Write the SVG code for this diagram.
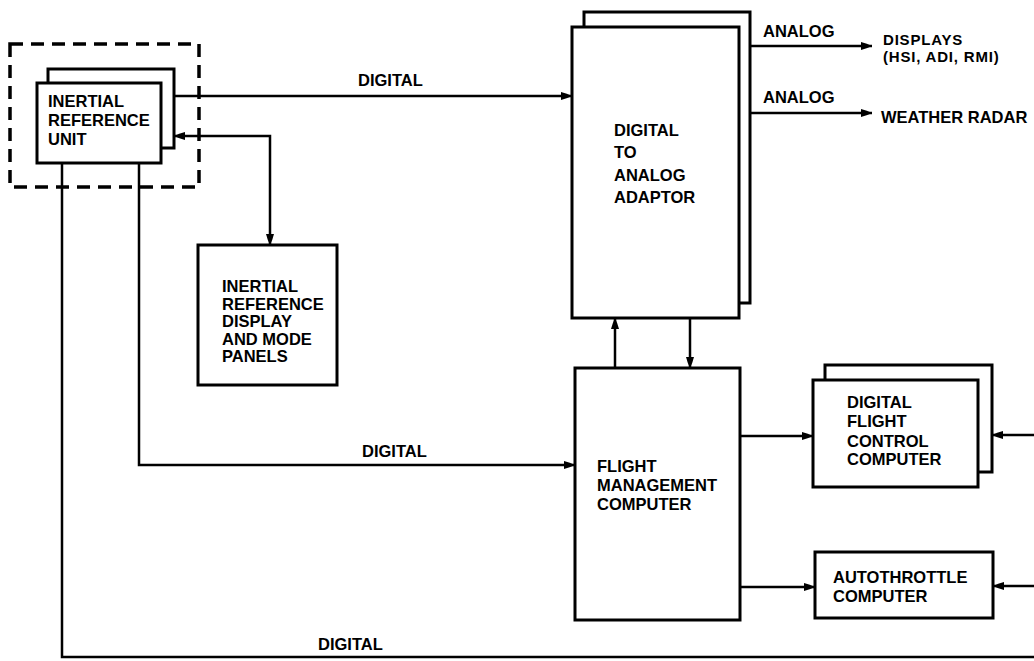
<svg xmlns="http://www.w3.org/2000/svg" width="1034" height="661" viewBox="0 0 1034 661">
<style>
.box{fill:#fff;stroke:#000;stroke-width:3}
.ln{fill:none;stroke:#000;stroke-width:2.5}
.dash{fill:none;stroke:#000;stroke-width:3.5;stroke-dasharray:13 8}
text{font-family:"Liberation Sans",Arial,sans-serif;font-weight:bold;font-size:16.5px;fill:#000}
.sm{font-size:15px;letter-spacing:0.8px}
</style>
<defs>
<marker id="ah" markerUnits="userSpaceOnUse" markerWidth="14" markerHeight="10" refX="11" refY="5" orient="auto-start-reverse">
<path d="M0,1 Q6,2.5 11,5 Q6,7.5 0,9 Z" fill="#000"/>
</marker>
</defs>
<rect width="1034" height="661" fill="#fff"/>
<g id="iru-boundary"><rect class="dash" x="10" y="44" width="189" height="143"/></g>
<g id="iru">
<rect class="box" x="48" y="69" width="126" height="79"/>
<rect class="box" x="37" y="83" width="124" height="80"/>
<text x="48" y="107">INERTIAL</text>
<text x="48" y="126">REFERENCE</text>
<text x="48" y="145">UNIT</text>
</g>
<g id="irdp">
<rect class="box" x="198" y="245" width="139" height="140"/>
<text x="222" y="292">INERTIAL</text>
<text x="222" y="310">REFERENCE</text>
<text x="222" y="327">DISPLAY</text>
<text x="222" y="345">AND MODE</text>
<text x="222" y="362">PANELS</text>
</g>
<g id="daa">
<rect class="box" x="584" y="12" width="166" height="291"/>
<rect class="box" x="572" y="27" width="167" height="291"/>
<text x="614" y="136">DIGITAL</text>
<text x="614" y="158">TO</text>
<text x="614" y="181">ANALOG</text>
<text x="614" y="203">ADAPTOR</text>
</g>
<g id="fmc">
<rect class="box" x="575" y="368" width="165" height="252"/>
<text x="597" y="472">FLIGHT</text>
<text x="597" y="491">MANAGEMENT</text>
<text x="597" y="510">COMPUTER</text>
</g>
<g id="dfcc">
<rect class="box" x="825" y="365" width="167" height="107"/>
<rect class="box" x="813" y="380" width="165" height="107"/>
<text x="847" y="408">DIGITAL</text>
<text x="847" y="427">FLIGHT</text>
<text x="847" y="447">CONTROL</text>
<text x="847" y="465">COMPUTER</text>
</g>
<g id="atc">
<rect class="box" x="815" y="552" width="178" height="66"/>
<text x="833" y="583">AUTOTHROTTLE</text>
<text x="833" y="602">COMPUTER</text>
</g>
<g id="displays"><text class="sm" x="883" y="45">DISPLAYS</text><text class="sm" x="883" y="62">(HSI, ADI, RMI)</text></g>
<g id="weather-radar"><text x="881" y="123">WEATHER RADAR</text></g>
<g id="connectors">
<path class="ln" d="M174,96 H572" marker-end="url(#ah)"/>
<path class="ln" d="M174,136 H270 V245" marker-start="url(#ah)" marker-end="url(#ah)"/>
<path class="ln" d="M139,163 V465 H575" marker-end="url(#ah)"/>
<path class="ln" d="M62,163 V657 H1034"/>
<path class="ln" d="M750,46 H872" marker-end="url(#ah)"/>
<path class="ln" d="M750,113 H872" marker-end="url(#ah)"/>
<path class="ln" d="M615,368 V318" marker-end="url(#ah)"/>
<path class="ln" d="M690,318 V368" marker-end="url(#ah)"/>
<path class="ln" d="M740,436 H813" marker-end="url(#ah)"/>
<path class="ln" d="M1034,435 H992" marker-end="url(#ah)"/>
<path class="ln" d="M740,587 H815" marker-end="url(#ah)"/>
<path class="ln" d="M1034,586 H993" marker-end="url(#ah)"/>
<text x="358" y="86">DIGITAL</text>
<text x="362" y="457">DIGITAL</text>
<text x="318" y="650">DIGITAL</text>
<text x="763" y="37">ANALOG</text>
<text x="763" y="103">ANALOG</text>
</g>
</svg>
